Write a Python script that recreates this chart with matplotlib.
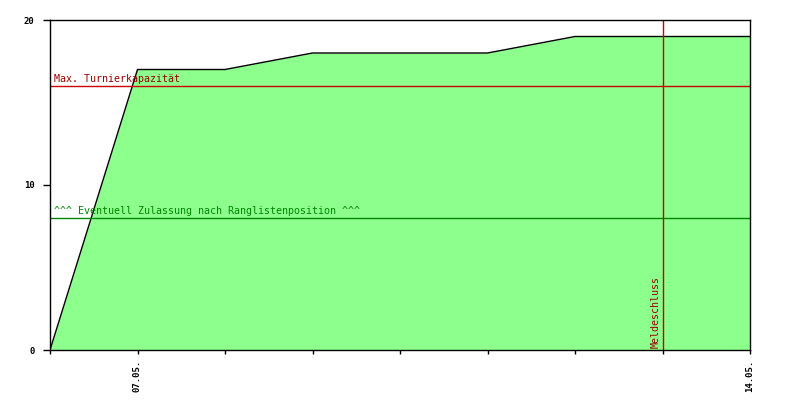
import matplotlib
matplotlib.use("Agg")
import matplotlib.pyplot as plt

days = [0, 1, 2, 3, 4, 5, 6, 7, 8]
counts = [0, 17, 17, 18, 18, 18, 19, 19, 19]
tick_pos = [0, 1, 2, 3, 4, 5, 6, 7, 8]
tick_labels = ["", "07.05.", "", "", "", "", "", "", "14.05."]
y_ticks = [0, 10, 20]
capacity = 16
ranking_line = 8
deadline = 7

mono = "DejaVu Sans Mono"
fig = plt.figure(figsize=(8, 4), dpi=100)
ax = fig.add_axes([50/800, 1-350/400, 700/800, 330/400])
ax.fill_between(days, counts, 0, color="#8CFF8C", linewidth=0)
ax.plot(days, counts, color="black", linewidth=1)
ax.axhline(capacity, color="#CC0000", linewidth=1)
ax.axhline(ranking_line, color="#008800", linewidth=1)
ax.axvline(deadline, color="#CC0000", linewidth=1)
ax.text(0.05, capacity + 0.1, "Max. Turnierkapazität", color="#990000",
        fontsize=7.2, family=mono, va="bottom", ha="left")
ax.text(0.05, ranking_line + 0.1, "^^^ Eventuell Zulassung nach Ranglistenposition ^^^",
        color="#008800", fontsize=7.2, family=mono, va="bottom", ha="left")
ax.text(deadline - 0.02, 0.15, "Meldeschluss", color="#990000", fontsize=7.2,
        family=mono, rotation=90, va="bottom", ha="right")
ax.set_xlim(0, 8)
ax.set_ylim(0, 20)
ax.set_xticks(tick_pos)
ax.set_xticklabels(tick_labels, rotation=90, family=mono, fontsize=6.5, weight="bold")
ax.set_yticks(y_ticks)
ax.set_yticklabels([str(v) for v in y_ticks], family=mono, fontsize=6.5, weight="bold")
ax.tick_params(axis="x", direction="out", length=3, width=1, colors="black", pad=4)
ax.tick_params(axis="y", direction="out", length=5, width=1, colors="black", pad=6)
for s in ax.spines.values():
    s.set_linewidth(1)
fig.savefig("out.png", dpi=100, facecolor="white")
